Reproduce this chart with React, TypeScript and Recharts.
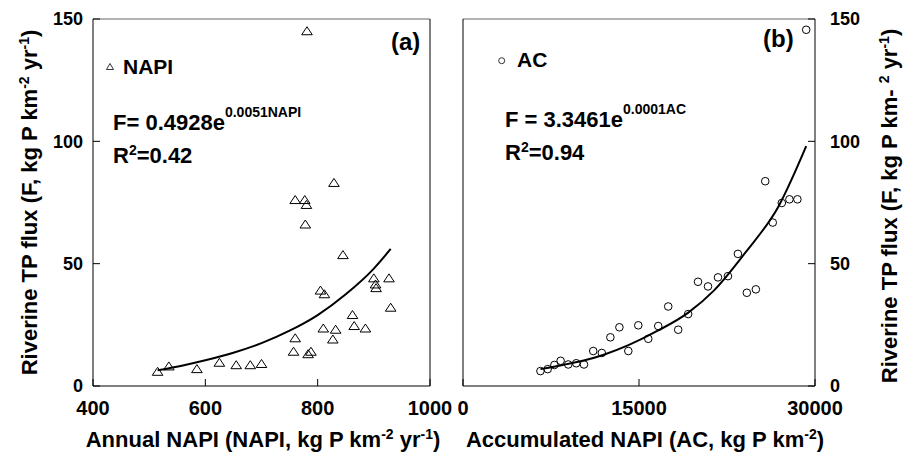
import {
  ComposedChart,
  Scatter,
  Line,
  XAxis,
  YAxis,
  ReferenceLine,
  Customized,
} from "recharts";

// panel (a): annual NAPI vs riverine TP flux
const napiX = [515, 535, 585, 625, 655, 680, 700, 757, 760, 783, 788, 760, 777, 780, 778, 781, 829, 845, 805, 812, 810, 832, 827, 862, 865, 885, 900, 903, 904, 927, 930];
const napiF = [5.8, 8.0, 6.9, 9.5, 8.5, 8.5, 9, 14, 19.5, 13, 14, 76, 76, 74, 66, 145, 83, 53.5, 39, 37.5, 23.5, 23, 19, 29, 24.5, 23.5, 44, 41.5, 40, 44, 32];
const napiFitX = [515, 560, 600, 650, 700, 750, 800, 850, 900, 930];
const napiFitF = [6.4, 8.4, 10.5, 13.6, 17.5, 22.6, 29, 37.5, 48, 56];

// panel (b): accumulated NAPI vs riverine TP flux
const acX = [6600, 7220, 7790, 8320, 8970, 9650, 10310, 11100, 11830, 12560, 13330, 14090, 14940, 15790, 16640, 17490, 18340, 19190, 20030, 20880, 21730, 22580, 23430, 24190, 24960, 25760, 26400, 27170, 27820, 28500, 29250];
const acF = [6.1, 6.9, 8.6, 10.3, 8.8, 9.3, 8.8, 14.3, 13.5, 19.9, 24, 14.3, 24.8, 19.3, 24.5, 32.5, 23, 29.4, 42.6, 40.7, 44.4, 44.9, 54, 38.1, 39.5, 83.7, 66.8, 74.8, 76.3, 76.3, 145.6];
const acFitX = [6600, 8400, 10200, 12000, 14100, 16600, 19200, 21400, 24060, 26900, 29250];
const acFitF = [6.9, 8.5, 10.3, 12.8, 16.7, 22.6, 30, 39.1, 54.5, 73.5, 98];

const napiTicks = [400, 600, 800, 1000];
const acTicks = [0, 15000, 30000];
const fluxTicks = [0, 50, 100, 150];

const zip = (xs: number[], ys: number[]) => xs.map((x, i) => ({ x, y: ys[i] }));
const napiPts = zip(napiX, napiF);
const napiFit = zip(napiFitX, napiFitF);
const acPts = zip(acX, acF);
const acFit = zip(acFitX, acFitF);

const FONT = "'Liberation Sans', Arial, Helvetica, sans-serif";
const xTick = { fill: "#000", fontSize: 20, fontWeight: "bold", fontFamily: FONT };
const yTick = { fill: "#000", fontSize: 18, fontWeight: "bold", fontFamily: FONT };

const Tri = (props: any) => {
  const { cx, cy } = props;
  if (cx == null || cy == null) return null;
  return (
    <polygon
      points={`${cx},${cy - 4.5} ${cx - 5.3},${cy + 3.5} ${cx + 5.3},${cy + 3.5}`}
      fill="none"
      stroke="#000"
      strokeWidth={1}
    />
  );
};

const Ring = (props: any) => {
  const { cx, cy } = props;
  if (cx == null || cy == null) return null;
  return <circle cx={cx} cy={cy} r={3.8} fill="none" stroke="#000" strokeWidth={1} />;
};

const txt = { fontFamily: FONT, fontWeight: "bold" as const, fill: "#000" };

const LeftNotes = () => (
  <g>
    <polygon points="110,63.5 106.5,69.5 113.5,69.5" fill="none" stroke="#000" strokeWidth={0.8} />
    <text x={123} y={74} fontSize={21} {...txt}>NAPI</text>
    <text x={113} y={130} fontSize={22} {...txt}>
      F= 0.4928e<tspan fontSize={14} dy={-13}>0.0051NAPI</tspan>
    </text>
    <text x={113} y={163} fontSize={22} {...txt}>
      R<tspan fontSize={14} dy={-8}>2</tspan><tspan dy={8}>=0.42</tspan>
    </text>
    <text x={391} y={50} fontSize={24} {...txt}>(a)</text>
    <text x={263} y={447} textAnchor="middle" fontSize={22} {...txt}>
      Annual NAPI (NAPI, kg P km<tspan fontSize={14} dy={-8}>-2</tspan>
      <tspan dy={8}> yr</tspan><tspan fontSize={14} dy={-8}>-1</tspan><tspan dy={8}>)</tspan>
    </text>
    <text transform="translate(37,202.5) rotate(-90)" textAnchor="middle" fontSize={22} {...txt}>
      Riverine TP flux (F, kg P km<tspan fontSize={14} dy={-8}>-2</tspan>
      <tspan dy={8}> yr</tspan><tspan fontSize={14} dy={-8}>-1</tspan><tspan dy={8}>)</tspan>
    </text>
  </g>
);

const RightNotes = () => (
  <g>
    <circle cx={501.7} cy={60.7} r={3} fill="none" stroke="#000" strokeWidth={0.8} />
    <text x={517} y={67} fontSize={21} {...txt}>AC</text>
    <text x={505} y={127} fontSize={22} {...txt}>
      F = 3.3461e<tspan fontSize={14} dy={-13}>0.0001AC</tspan>
    </text>
    <text x={505} y={160} fontSize={22} {...txt}>
      R<tspan fontSize={14} dy={-8}>2</tspan><tspan dy={8}>=0.94</tspan>
    </text>
    <text x={763} y={47} fontSize={24} {...txt}>(b)</text>
    <text x={645} y={447} textAnchor="middle" fontSize={22} {...txt}>
      Accumulated NAPI (AC, kg P km<tspan fontSize={14} dy={-8}>-2</tspan><tspan dy={8}>)</tspan>
    </text>
    <text transform="translate(897,206) rotate(-90)" textAnchor="middle" fontSize={22} {...txt}>
      Riverine TP flux (F, kg P km- <tspan fontSize={14} dy={-8}>2</tspan>
      <tspan dy={8}> yr</tspan><tspan fontSize={14} dy={-8}>-1</tspan><tspan dy={8}>)</tspan>
    </text>
  </g>
);

const layer: React.CSSProperties = { position: "absolute", left: 0, top: 0 };

export default function App() {
  return (
    <div style={{ position: "absolute", left: 0, top: 0, width: 904, height: 459, background: "#fff" }}>
      <div style={layer}>
        <ComposedChart width={904} height={459} margin={{ top: 19, right: 474, bottom: 43, left: 53 }}>
          <XAxis
            type="number"
            dataKey="x"
            domain={[400, 1000]}
            ticks={napiTicks}
            tickSize={-7}
            tickMargin={22}
            height={30}
            axisLine={{ stroke: "#000" }}
            tickLine={{ stroke: "#000" }}
            tick={xTick}
            interval={0}
          />
          <YAxis
            type="number"
            dataKey="y"
            domain={[0, 150]}
            ticks={fluxTicks}
            tickSize={-7}
            tickMargin={17}
            width={40}
            axisLine={{ stroke: "#000" }}
            tickLine={{ stroke: "#000" }}
            tick={yTick}
            interval={0}
          />
          <ReferenceLine y={150} stroke="#666" strokeWidth={1.2} />
          <ReferenceLine x={1000} stroke="#000" />
          <Scatter data={napiPts} dataKey="y" shape={Tri} isAnimationActive={false} />
          <Line data={napiFit} dataKey="y" type="monotone" stroke="#000" strokeWidth={2} dot={false} activeDot={false} isAnimationActive={false} />
          <Customized component={LeftNotes} />
        </ComposedChart>
      </div>
      <div style={layer}>
        <ComposedChart width={904} height={459} margin={{ top: 19, right: 29, bottom: 43, left: 463 }}>
          <XAxis
            type="number"
            dataKey="x"
            domain={[0, 30000]}
            ticks={acTicks}
            tickSize={-7}
            tickMargin={22}
            height={30}
            axisLine={{ stroke: "#000" }}
            tickLine={{ stroke: "#000" }}
            tick={xTick}
            interval={0}
          />
          <YAxis
            type="number"
            dataKey="y"
            orientation="right"
            domain={[0, 150]}
            ticks={fluxTicks}
            tickSize={-7}
            tickMargin={22}
            width={60}
            axisLine={{ stroke: "#000" }}
            tickLine={{ stroke: "#000" }}
            tick={yTick}
            interval={0}
          />
          <ReferenceLine y={150} stroke="#666" strokeWidth={1.2} />
          <ReferenceLine x={0} stroke="#000" />
          <Scatter data={acPts} dataKey="y" shape={Ring} isAnimationActive={false} />
          <Line data={acFit} dataKey="y" type="monotone" stroke="#000" strokeWidth={2} dot={false} activeDot={false} isAnimationActive={false} />
          <Customized component={RightNotes} />
        </ComposedChart>
      </div>
    </div>
  );
}
